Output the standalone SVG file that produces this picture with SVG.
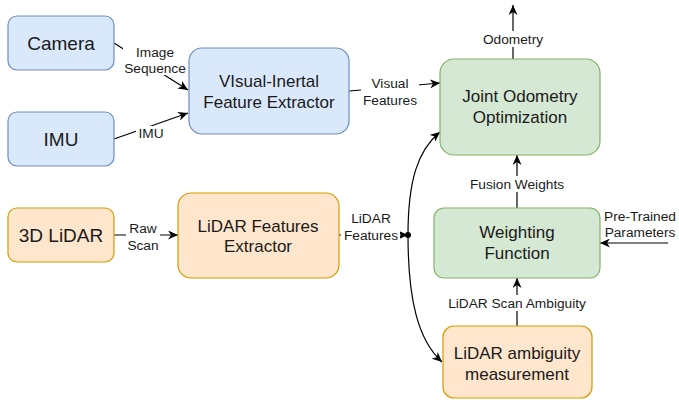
<svg xmlns="http://www.w3.org/2000/svg" width="679" height="400" viewBox="0 0 679 400">
<defs>
<marker id="arr" markerUnits="userSpaceOnUse" markerWidth="11" markerHeight="9" refX="10" refY="4.5" orient="auto">
<path d="M0,0 L10,4.5 L0,9 L3,4.5 z" fill="#000"/>
</marker>
<style>
.blue{fill:#dae8fc;stroke:#6c8ebf;stroke-width:1.2}
.orange{fill:#ffe6cc;stroke:#d79b00;stroke-width:1.2}
.green{fill:#d5e8d4;stroke:#82b366;stroke-width:1.2}
.nt{font-family:"Liberation Sans",Arial,sans-serif;font-size:17px;fill:#1a1a1a;text-anchor:middle}
.big{font-size:19px}
.et{font-family:"Liberation Sans",Arial,sans-serif;font-size:13.7px;fill:#1a1a1a;text-anchor:middle}
.ln{fill:none;stroke:#000;stroke-width:1.2}
.bg{fill:#fff}
</style>
</defs>
<rect width="679" height="400" fill="#fff"/>
<g id="connectors">
<line class="ln" x1="114" y1="43" x2="188" y2="90" marker-end="url(#arr)"/>
<line class="ln" x1="114" y1="139" x2="188" y2="113" marker-end="url(#arr)"/>
<line class="ln" x1="349" y1="91" x2="440" y2="83" marker-end="url(#arr)"/>
<line class="ln" x1="513" y1="59" x2="513" y2="5" marker-end="url(#arr)"/>
<line class="ln" x1="114" y1="235" x2="178" y2="235" marker-end="url(#arr)"/>
<line class="ln" x1="339" y1="235" x2="408" y2="235" marker-end="url(#arr)"/>
<path class="ln" d="M408,235 C408,180 418,150 440,132" marker-end="url(#arr)"/>
<path class="ln" d="M408,235 C408,300 418,340 442,362" marker-end="url(#arr)"/>
<circle cx="408" cy="235" r="3" fill="#000"/>
<line class="ln" x1="517" y1="208" x2="517" y2="155" marker-end="url(#arr)"/>
<line class="ln" x1="668" y1="243" x2="600" y2="243" marker-end="url(#arr)"/>
<line class="ln" x1="517" y1="326" x2="517" y2="278" marker-end="url(#arr)"/>
<rect class="bg" x="123" y="45" width="64" height="30"/>
<text class="et" x="155" y="57">Image</text>
<text class="et" x="155" y="73">Sequence</text>
<rect class="bg" x="136" y="126" width="29" height="14"/>
<text class="et" x="151" y="138">IMU</text>
<rect class="bg" x="361" y="75" width="58" height="32"/>
<text class="et" x="390" y="88">Visual</text>
<text class="et" x="390" y="105">Features</text>
<rect class="bg" x="479" y="31" width="68" height="16"/>
<text class="et" x="513" y="44">Odometry</text>
<rect class="bg" x="126" y="221" width="34" height="31"/>
<text class="et" x="143" y="233">Raw</text>
<text class="et" x="143" y="250">Scan</text>
<rect class="bg" x="341" y="210" width="59" height="32"/>
<text class="et" x="371" y="223">LiDAR</text>
<text class="et" x="371" y="240">Features</text>
<rect class="bg" x="466" y="176" width="102" height="16"/>
<text class="et" x="517" y="189">Fusion Weights</text>
<rect class="bg" x="446" y="295" width="142" height="16"/>
<text class="et" x="517" y="308">LiDAR Scan Ambiguity</text>
<text class="et" x="640" y="221">Pre-Trained</text>
<text class="et" x="640" y="237">Parameters</text>
</g>
<g id="camera">
<rect class="blue" x="8" y="16" width="106" height="54" rx="9"/>
<text class="nt big" x="61" y="50">Camera</text>
</g>
<g id="imu">
<rect class="blue" x="8" y="112" width="106" height="54" rx="9"/>
<text class="nt big" x="61" y="146">IMU</text>
</g>
<g id="vi-extractor">
<rect class="blue" x="189" y="48" width="160" height="86" rx="13"/>
<text class="nt" x="269" y="87">VIsual-Inertal</text>
<text class="nt" x="269" y="108">Feature Extractor</text>
</g>
<g id="joint-odometry">
<rect class="green" x="440" y="59" width="160" height="96" rx="14"/>
<text class="nt" x="520" y="102">Joint Odometry</text>
<text class="nt" x="520" y="123">Optimization</text>
</g>
<g id="lidar">
<rect class="orange" x="8" y="208" width="106" height="54" rx="9"/>
<text class="nt big" x="61" y="242">3D LiDAR</text>
</g>
<g id="lidar-extractor">
<rect class="orange" x="178" y="193" width="161" height="85" rx="13"/>
<text class="nt" x="258" y="232">LiDAR Features</text>
<text class="nt" x="258" y="252">Extractor</text>
</g>
<g id="weighting">
<rect class="green" x="434" y="208" width="166" height="70" rx="10"/>
<text class="nt" x="517" y="238">Weighting</text>
<text class="nt" x="517" y="259">Function</text>
</g>
<g id="ambiguity">
<rect class="orange" x="443" y="326" width="149" height="72" rx="11"/>
<text class="nt" x="517" y="359">LiDAR ambiguity</text>
<text class="nt" x="517" y="380">measurement</text>
</g>
</svg>
